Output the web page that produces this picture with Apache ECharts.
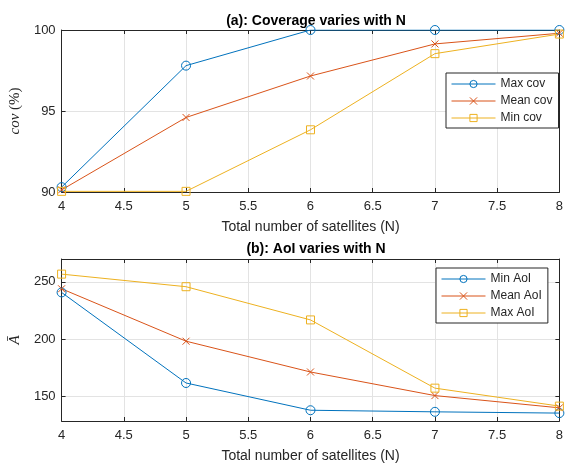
<!DOCTYPE html>
<html><head><meta charset="utf-8">
<script src="https://cdn.jsdelivr.net/npm/echarts@6/dist/echarts.min.js"></script>
<style>html,body{margin:0;padding:0;background:#fff}#c{width:566px;height:464px}</style>
</head><body><div id="c"></div>
<script>
const N = [4, 5, 6, 7, 8];
const maxCov = [90.3, 97.8, 100, 100, 100];
const meanCov = [90.13, 94.6, 97.16, 99.14, 99.8];
const minCov = [90.04, 90.04, 93.84, 98.54, 99.75];
const minAoI = [240.8, 161.7, 137.9, 136.5, 135.4];
const meanAoI = [244.0, 198.2, 171.3, 150.7, 140.0];
const maxAoI = [256.8, 245.8, 216.8, 157.2, 141.5];
const xTickInterval = 0.5;
const covTicks = [90, 95, 100];
const aoiTicks = [150, 200, 250];

const C1 = '#0072BD', C2 = '#D95319', C3 = '#EDB120';
const AX = '#262626', GRID = '#e3e3e3';
const FONT = 'Liberation Sans, Arial, Helvetica, sans-serif';
const SERIF = 'Liberation Serif, DejaVu Serif, serif';
const X_SYM = 'path://M0,0L10,10M10,0L0,10';

function pts(xs, ys) { return xs.map((x, i) => [x, ys[i]]); }

function xAxisMain(gi) {
  return {
    type: 'value', gridIndex: gi, min: 4, max: 8, interval: xTickInterval,
    name: 'Total number of satellites (N)', nameLocation: 'middle', nameGap: 28,
    nameTextStyle: { color: AX, fontSize: 14, fontFamily: FONT },
    axisLine: { show: true, lineStyle: { color: AX, width: 1 } },
    axisTick: { show: true, inside: true, length: 4, lineStyle: { color: AX } },
    axisLabel: { color: AX, fontSize: 13, fontFamily: FONT, margin: 8 },
    splitLine: { show: true, lineStyle: { color: GRID, width: 1 } }
  };
}
function xAxisTop(gi) {
  return {
    type: 'value', gridIndex: gi, position: 'top', min: 4, max: 8, interval: xTickInterval,
    axisLine: { show: true, lineStyle: { color: AX, width: 1 } },
    axisTick: { show: true, inside: true, length: 4, lineStyle: { color: AX } },
    axisLabel: { show: false }, splitLine: { show: false }
  };
}
const RICH = { i: { fontFamily: SERIF, fontStyle: 'italic', fontSize: 15, color: AX } };
function yAxisMain(gi, min, max, ticks, name) {
  return {
    type: 'value', gridIndex: gi, min: min, max: max,
    name: name, nameLocation: 'middle', nameGap: 30,
    nameTextStyle: { color: AX, fontSize: 15, fontFamily: SERIF, fontStyle: 'normal', rich: RICH },
    axisLine: { show: true, lineStyle: { color: AX, width: 1 } },
    axisTick: { show: true, inside: true, length: 4, lineStyle: { color: AX }, customValues: ticks },
    axisLabel: { color: AX, fontSize: 13, fontFamily: FONT, margin: 6, customValues: ticks },
    splitLine: { show: true, lineStyle: { color: GRID, width: 1 } }
  };
}
function yAxisRight(gi, min, max, ticks) {
  return {
    type: 'value', gridIndex: gi, position: 'right', min: min, max: max,
    axisLine: { show: true, lineStyle: { color: AX, width: 1 } },
    axisTick: { show: true, inside: true, length: 4, lineStyle: { color: AX }, customValues: ticks },
    axisLabel: { show: false }, splitLine: { show: false }
  };
}
function ser(name, data, color, sym, size, xi, yi) {
  return {
    type: 'line', name: name, data: data, xAxisIndex: xi, yAxisIndex: yi,
    symbol: sym, symbolSize: size, showAllSymbol: true, color: color,
    lineStyle: { color: color, width: 1 },
    itemStyle: { color: 'rgba(255,255,255,0)', borderColor: color, borderWidth: 1 },
    emphasis: { disabled: true }, animation: false, z: 3
  };
}
function legendCfg(names, left, top) {
  return {
    data: names, left: left, top: top, orient: 'vertical',
    backgroundColor: '#fff', borderColor: AX, borderWidth: 1, borderRadius: 0,
    padding: [5, 6, 4, 5], itemGap: 5, itemWidth: 44, itemHeight: 9,
    lineStyle: { width: 1 }, itemStyle: { borderWidth: 1 },
    textStyle: { color: AX, fontSize: 12, fontFamily: FONT, lineHeight: 12 }, selectedMode: false
  };
}

const chart = echarts.init(document.getElementById('c'), null, { renderer: 'canvas' });
chart.setOption({
  backgroundColor: '#fff',
  animation: false,
  title: [
    { text: '(a): Coverage varies with N', left: 311, top: 9, textAlign: 'center',
      textStyle: { fontSize: 14, fontWeight: 'bold', color: '#000', fontFamily: FONT } },
    { text: '(b): AoI varies with N', left: 311, top: 237, textAlign: 'center',
      textStyle: { fontSize: 14, fontWeight: 'bold', color: '#000', fontFamily: FONT } }
  ],
  grid: [
    { left: 61, right: 4, top: 30, height: 162, containLabel: false },
    { left: 61, right: 4, top: 259, height: 162, containLabel: false }
  ],
  xAxis: [xAxisMain(0), xAxisTop(0), xAxisMain(1), xAxisTop(1)],
  yAxis: [
    yAxisMain(0, 90, 100, covTicks, '{i|cov} (%)'),
    yAxisRight(0, 90, 100, covTicks),
    yAxisMain(1, 128.5, 270, aoiTicks, '{i|Ā}'),
    yAxisRight(1, 128.5, 270, aoiTicks)
  ],
  legend: [
    legendCfg(['Max cov', 'Mean cov', 'Min cov'], 446, 73),
    legendCfg(['Min AoI', 'Mean AoI', 'Max AoI'], 436, 268)
  ],
  series: [
    ser('Max cov', pts(N, maxCov), C1, 'circle', 9, 0, 0),
    ser('Mean cov', pts(N, meanCov), C2, X_SYM, 7, 0, 0),
    ser('Min cov', pts(N, minCov), C3, 'rect', 8, 0, 0),
    ser('Min AoI', pts(N, minAoI), C1, 'circle', 9, 2, 2),
    ser('Mean AoI', pts(N, meanAoI), C2, X_SYM, 7, 2, 2),
    ser('Max AoI', pts(N, maxAoI), C3, 'rect', 8, 2, 2)
  ]
});
</script></body></html>
